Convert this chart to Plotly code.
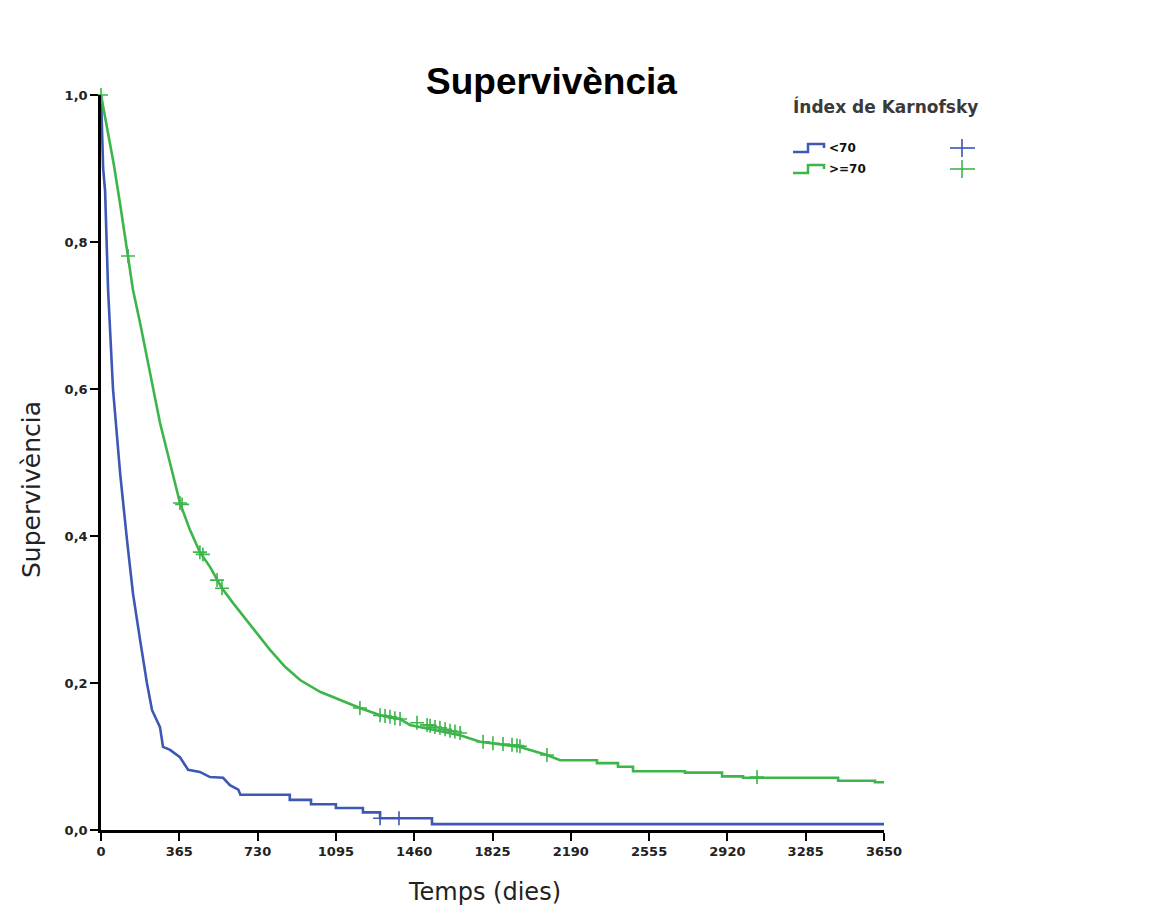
import plotly.graph_objects as go

# ---------------- data ----------------
tick_days = [0, 365, 730, 1095, 1460, 1825, 2190, 2555, 2920, 3285, 3650]
tick_surv = [0.0, 0.2, 0.4, 0.6, 0.8, 1.0]

# Karnofsky < 70
low_t = [0, 4, 10, 19, 33, 56, 89, 121, 135, 149, 182, 214, 238, 275, 289, 322, 368, 406,
         461, 508, 569, 601, 640, 650, 880, 880, 979, 979, 1095, 1095, 1221, 1221,
         1301, 1301, 1543, 1543, 3650]
low_s = [1.0, 0.95, 0.90, 0.87, 0.735, 0.60, 0.486, 0.395, 0.358, 0.322, 0.259, 0.200, 0.163,
         0.140, 0.113, 0.109, 0.099, 0.082, 0.079, 0.072, 0.071, 0.061, 0.055, 0.048, 0.048,
         0.041, 0.041, 0.035, 0.035, 0.030, 0.030, 0.024, 0.024, 0.016, 0.016, 0.008, 0.008]
low_cens_t = [1301, 1389]
low_cens_s = [0.016, 0.016]

# Karnofsky >= 70
high_t = [0, 30, 60, 90, 126, 149, 182, 228, 275, 322, 368, 415, 461, 508, 541, 564,
          615, 695, 788, 858, 928, 1021, 1114, 1207, 1301, 1394, 1440, 1580, 1674, 1767,
          1953, 2079, 2140, 2312, 2312, 2410, 2410, 2480, 2480, 2722, 2722, 2895, 2895,
          2993, 2993, 3436, 3436, 3608, 3608, 3650]
high_s = [1.0, 0.955, 0.905, 0.85, 0.781, 0.735, 0.690, 0.622, 0.554, 0.499, 0.445,
          0.408, 0.378, 0.358, 0.340, 0.329, 0.309, 0.279, 0.245, 0.222, 0.204, 0.188, 0.177,
          0.166, 0.156, 0.151, 0.143, 0.135, 0.129, 0.120, 0.113, 0.102, 0.095, 0.095, 0.091,
          0.091, 0.086, 0.086, 0.080, 0.080, 0.078, 0.078, 0.073, 0.073, 0.071, 0.071,
          0.067, 0.067, 0.065, 0.065]
high_cens_t = [0, 126, 368, 378, 461, 475, 541, 564, 1207, 1301, 1324, 1347, 1370, 1394,
               1473, 1520, 1534, 1557, 1580, 1604, 1627, 1650, 1674,
               1781, 1827, 1874, 1916, 1939, 1953, 2079, 3058]
high_cens_s = [1.0, 0.781, 0.445, 0.443, 0.378, 0.375, 0.340, 0.329, 0.166, 0.156, 0.155,
               0.154, 0.152, 0.151, 0.146, 0.143, 0.142, 0.140, 0.139, 0.137, 0.135, 0.134,
               0.132, 0.120, 0.118, 0.117, 0.116, 0.115, 0.114, 0.102, 0.072]

legend_title = "Índex de Karnofsky"
group_names = ["<70", ">=70"]

BLUE = "#3d57b5"
GREEN = "#3cb54a"

# ---------------- figure ----------------
W, H = 1176, 922
L, R, T, B = 101, 292, 95, 92
PW, PH = W - L - R, H - T - B


def px(x):
    return (x - L) / PW


def py(y):
    return (H - B - y) / PH


fig = go.Figure()
fig.add_trace(go.Scatter(x=low_t, y=low_s, mode="lines", line=dict(color=BLUE, width=2.6),
                         showlegend=False, cliponaxis=False))
fig.add_trace(go.Scatter(x=high_t, y=high_s, mode="lines", line=dict(color=GREEN, width=2.6),
                         showlegend=False, cliponaxis=False))
fig.add_trace(go.Scatter(x=low_cens_t, y=low_cens_s, mode="markers",
                         marker=dict(symbol="cross-thin", size=10, line=dict(color=BLUE, width=1.6)),
                         showlegend=False, cliponaxis=False))
fig.add_trace(go.Scatter(x=high_cens_t, y=high_cens_s, mode="markers",
                         marker=dict(symbol="cross-thin", size=10, line=dict(color=GREEN, width=1.6)),
                         showlegend=False, cliponaxis=False))

axis_font = dict(family="DejaVu Sans", size=13, color="#222222", weight="bold")

fig.update_layout(
    width=W, height=H,
    margin=dict(l=L, r=R, t=T, b=B),
    paper_bgcolor="white", plot_bgcolor="white",
    separators=",.",
    showlegend=False,
    xaxis=dict(range=[0, 3650], tickvals=tick_days, ticks="outside", ticklen=8, tickwidth=2,
               tickcolor="black", showline=True, linecolor="black", linewidth=2.5,
               showgrid=False, zeroline=False, tickfont=axis_font),
    yaxis=dict(range=[0, 1], tickvals=tick_surv, tickformat=".1f", ticks="outside", ticklen=8,
               tickwidth=2, tickcolor="black", showline=True, linecolor="black", linewidth=2.5,
               showgrid=False, zeroline=False, tickfont=axis_font),
)

ann = []
ann.append(dict(text="<b>Supervivència</b>", x=px(551), y=py(82), xref="paper", yref="paper",
                showarrow=False, xanchor="center", yanchor="middle",
                font=dict(family="Liberation Sans, Arial", size=37, color="black")))
ann.append(dict(text="Temps (dies)", x=px(484), y=py(892), xref="paper", yref="paper",
                showarrow=False, xanchor="center", yanchor="middle",
                font=dict(family="DejaVu Sans", size=24, color="#222222")))
ann.append(dict(text="Supervivència", x=px(32), y=py(490), xref="paper", yref="paper",
                showarrow=False, xanchor="center", yanchor="middle", textangle=-90,
                font=dict(family="DejaVu Sans", size=25, color="#222222")))
ann.append(dict(text="<b>" + legend_title + "</b>", x=px(791), y=py(107), xref="paper", yref="paper",
                showarrow=False, xanchor="left", yanchor="middle",
                font=dict(family="DejaVu Sans", size=17, color="#3a3a3a")))
row_y = [148, 169]
colors = [BLUE, GREEN]
shapes = []
for name, yy, c in zip(group_names, row_y, colors):
    ann.append(dict(text="<b>" + name + "</b>", x=px(827), y=py(yy), xref="paper", yref="paper",
                    showarrow=False, xanchor="left", yanchor="middle",
                    font=dict(family="DejaVu Sans", size=12, color="#111111")))
    path = "M {} {} L {} {} L {} {} L {} {} L {} {}".format(
        px(793), py(yy + 4), px(808), py(yy + 4), px(808), py(yy - 4),
        px(824), py(yy - 4), px(824), py(yy))
    shapes.append(dict(type="path", path=path, xref="paper", yref="paper",
                       line=dict(color=c, width=2.5)))
    shapes.append(dict(type="line", x0=px(950), x1=px(975), y0=py(yy), y1=py(yy),
                       xref="paper", yref="paper", line=dict(color=c, width=1.6)))
    shapes.append(dict(type="line", x0=px(962), x1=px(962), y0=py(yy - 9), y1=py(yy + 9),
                       xref="paper", yref="paper", line=dict(color=c, width=1.6)))

fig.update_layout(annotations=ann, shapes=shapes)
fig.write_html("out.html")
